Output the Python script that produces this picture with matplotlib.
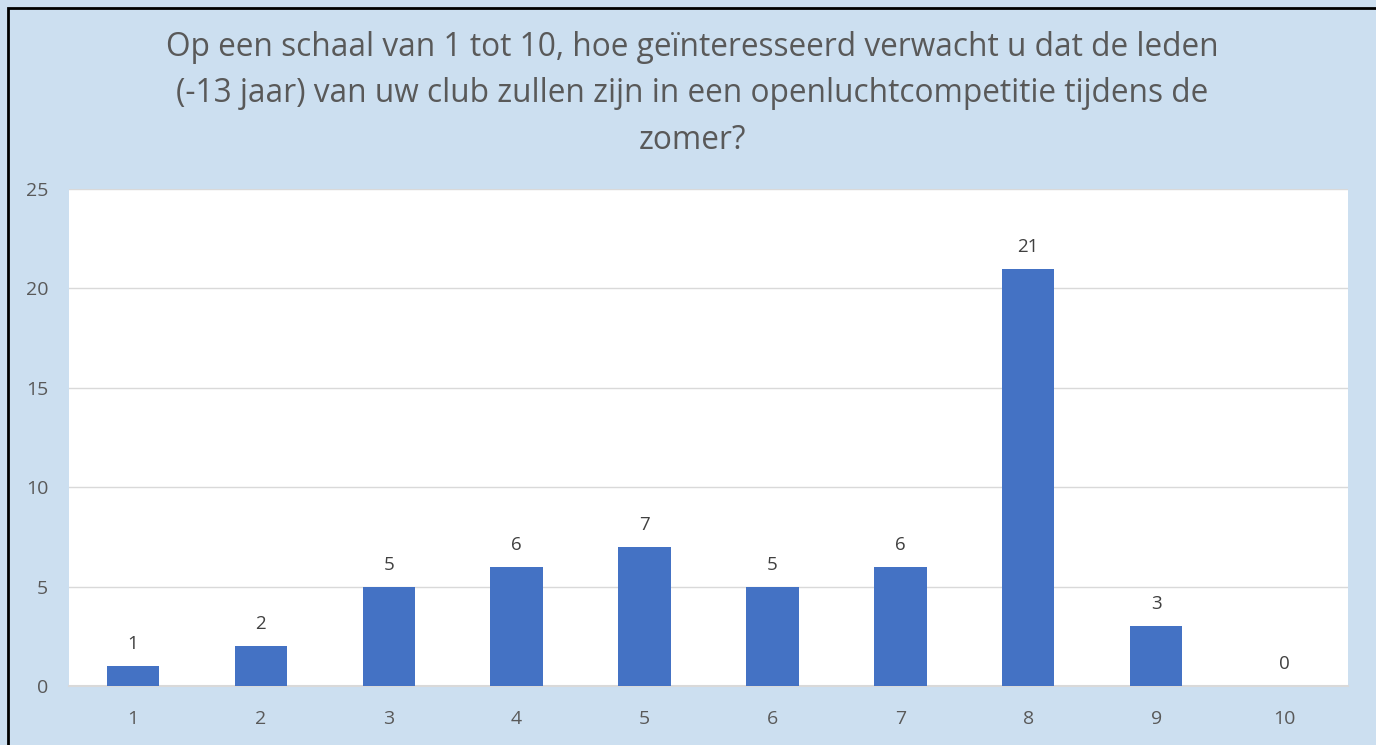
import matplotlib.pyplot as plt
from matplotlib.patches import Rectangle

# data
categories = ['1', '2', '3', '4', '5', '6', '7', '8', '9', '10']
values = [1, 2, 5, 6, 7, 5, 6, 21, 3, 0]
title = ('Op een schaal van 1 tot 10, hoe geïnteresseerd verwacht u dat de leden\n'
         '(-13 jaar) van uw club zullen zijn in een openluchtcompetitie tijdens de\n'
         'zomer?')

W, H = 1376, 745
bg = '#CCDFF0'
plt.rcParams['font.family'] = ['Open Sans', 'DejaVu Sans']

fig = plt.figure(figsize=(W / 100, H / 100), dpi=100)
fig.patch.set_facecolor(bg)

# plot area in pixels: left 69, right 1348, top 189, bottom 686
ax = fig.add_axes([69 / W, 1 - 686 / H, (1348 - 69) / W, (686 - 189) / H])
ax.set_facecolor('white')

x = range(len(categories))
ax.bar(x, values, width=0.41, color='#4472C4', zorder=3)
for i, v in enumerate(values):
    ax.text(i, v + 1.1, str(v), ha='center', va='center', fontsize=13.5, color='#404040')

ax.set_xlim(-0.5, len(categories) - 0.5)
ax.set_ylim(0, 25)
ax.set_yticks([0, 5, 10, 15, 20, 25])
ax.set_xticks(list(x))
ax.set_xticklabels(categories)
ax.grid(axis='y', color='#D9D9D9', linewidth=1, zorder=0)
ax.tick_params(length=0, labelsize=14, colors='#595959')
ax.tick_params(axis='x', pad=17)
ax.tick_params(axis='y', pad=15)
for s in ['top', 'right', 'left']:
    ax.spines[s].set_visible(False)
ax.spines['bottom'].set_color('#D9D9D9')
ax.spines['bottom'].set_linewidth(1.5)

fig.text(692 / W, 1 - 94 / H, title, ha='center', va='center', fontsize=22.8,
         color='#595959', linespacing=1.53)

# black frame on the left and top edges
fig.patches.append(Rectangle((8 / W, -0.05), 1.1, 1 - 8 / H + 0.05, transform=fig.transFigure,
                             fill=False, edgecolor='black', linewidth=2))

fig.savefig('out.png', dpi=100, facecolor=bg)
